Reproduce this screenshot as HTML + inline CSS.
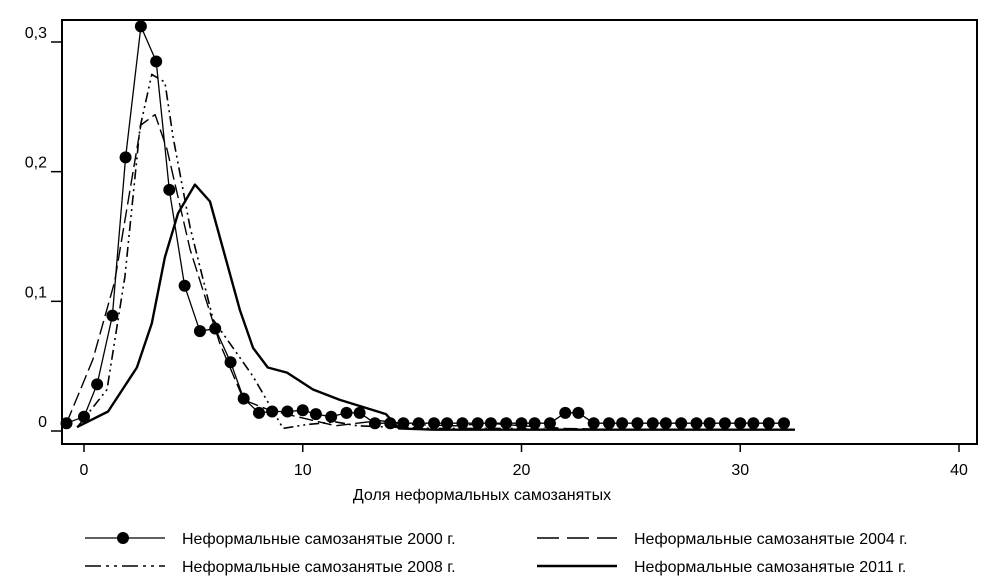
<!DOCTYPE html>
<html><head><meta charset="utf-8"><style>
body{margin:0;background:#fff}
svg{display:block;font-family:"Liberation Sans",Arial,sans-serif}
</style></head><body>
<svg id="chart" width="1000" height="584" viewBox="0 0 1000 584" xmlns="http://www.w3.org/2000/svg"></svg>
<script>
const xTicks=[0,10,20,30,40];
const yTicks=[0,0.1,0.2,0.3];
const yTickLabels=["0","0,1","0,2","0,3"];
const x2000=[-0.8,0,0.6,1.3,1.9,2.6,3.3,3.9,4.6,5.3,6.0,6.7,7.3,8.0,8.6,9.3,10.0,10.6,11.3,12.0,12.6,13.3,14.0,14.6,15.3,16.0,16.6,17.3,18.0,18.6,19.3,20.0,20.6,21.3,22.0,22.6,23.3,24.0,24.6,25.3,26.0,26.6,27.3,28.0,28.6,29.3,30.0,30.6,31.3,32.0];
const y2000=[0.006,0.011,0.036,0.089,0.211,0.312,0.285,0.186,0.112,0.077,0.079,0.053,0.025,0.014,0.015,0.015,0.016,0.013,0.011,0.014,0.014,0.006,0.006,0.006,0.006,0.006,0.006,0.006,0.006,0.006,0.006,0.006,0.006,0.006,0.014,0.014,0.006,0.006,0.006,0.006,0.006,0.006,0.006,0.006,0.006,0.006,0.006,0.006,0.006,0.006];
const x2004=[-0.8,0.4,1.4,2.6,3.25,3.8,4.85,6.2,7.3,8.5,9.5,10.5,11.5,12.5,13.5,15,17,18.5,20,22,25,28,30,32.5];
const y2004=[0.006,0.055,0.115,0.236,0.244,0.217,0.14,0.068,0.024,0.016,0.012,0.008,0.004,0.006,0.008,0.005,0.004,0.006,0.004,0.002,0.001,0.001,0.001,0.001];
const x2008=[-0.3,1.05,1.87,2.56,3.1,3.7,4.07,4.85,5.9,7.73,9.1,10.2,11.5,12.5,14,16,18,20,22,25,28,30,32.5];
const y2008=[0.003,0.032,0.119,0.234,0.275,0.269,0.227,0.157,0.086,0.042,0.002,0.005,0.007,0.004,0.003,0.002,0.002,0.002,0.001,0.001,0.001,0.001,0.001];
const x2011=[-0.32,1.1,2.42,3.1,3.7,4.3,5.07,5.76,7.13,7.73,8.4,9.28,10.47,11.7,13.8,14.4,16,20,25,30,32.5];
const y2011=[0.003,0.015,0.049,0.083,0.134,0.168,0.19,0.177,0.093,0.064,0.049,0.045,0.032,0.024,0.013,0.002,0.001,0.001,0.001,0.001,0.001];

const NS="http://www.w3.org/2000/svg";
const svg=document.getElementById('chart');
const X=v=>84+v*21.875;
const Y=v=>431-v*1296.7;
function mk(t,a,p){const e=document.createElementNS(NS,t);for(const k in a)e.setAttribute(k,a[k]);(p||svg).appendChild(e);return e;}

const frame=mk('rect',{x:62,y:20,width:915,height:424,fill:'none',stroke:'#000','stroke-width':2});



xTicks.forEach(t=>{
  const l=mk('line',{x1:X(t),x2:X(t),y1:444,y2:452,stroke:'#000','stroke-width':1.5});
  
  
  const tx=mk('text',{x:X(t),y:475,'text-anchor':'middle','font-size':16});
  tx.textContent=t;
  
  
});
yTicks.forEach((t,i)=>{
  const l=mk('line',{x1:51,x2:62,y1:Y(t),y2:Y(t),stroke:'#000','stroke-width':1.5});
  
  
  const tx=mk('text',{x:47,y:Y(t)-4,'text-anchor':'end','font-size':16});
  tx.textContent=yTickLabels[i];
  
  
});
const xt=mk('text',{x:482,y:500,'text-anchor':'middle','font-size':16});
xt.textContent='Доля неформальных самозанятых';



function series(xs,ys,style,name){
  const pts=xs.map((x,i)=>X(x).toFixed(1)+','+Y(ys[i]).toFixed(1)).join(' ');
  const p=mk('polyline',Object.assign({points:pts,fill:'none',stroke:'#000','stroke-linejoin':'round'},style));
  
  
}
series(x2011,y2011,{'stroke-width':2.4},'line-2011');
series(x2004,y2004,{'stroke-width':1.4,'stroke-dasharray':'14,5'},'line-2004');
series(x2008,y2008,{'stroke-width':1.6,'stroke-dasharray':'10,4,2,4,2,4'},'line-2008');
series(x2000,y2000,{'stroke-width':1.3},'line-2000');
x2000.forEach((x,i)=>{
  const c=mk('circle',{cx:X(x),cy:Y(y2000[i]),r:6,fill:'#000'});
  
  
});

const legend=[
  {x:85,y:538,label:'Неформальные самозанятые 2000 г.',st:{'stroke-width':1.3},dot:true},
  {x:537,y:538,label:'Неформальные самозанятые 2004 г.',st:{'stroke-width':1.4,'stroke-dasharray':'22,8'}},
  {x:85,y:566,label:'Неформальные самозанятые 2008 г.',st:{'stroke-width':1.6,'stroke-dasharray':'16,5,3,5,3,5'}},
  {x:537,y:566,label:'Неформальные самозанятые 2011 г.',st:{'stroke-width':2.4}}
];
legend.forEach(l=>{
  const g=mk('g',{});
  
  
  mk('line',Object.assign({x1:l.x,x2:l.x+80,y1:l.y,y2:l.y,stroke:'#000'},l.st),g);
  if(l.dot)mk('circle',{cx:l.x+38,cy:l.y,r:6,fill:'#000'},g);
  const t=mk('text',{x:l.x+97,y:l.y+6,'font-size':16},g);
  t.textContent=l.label;
});
</script>
</body></html>
